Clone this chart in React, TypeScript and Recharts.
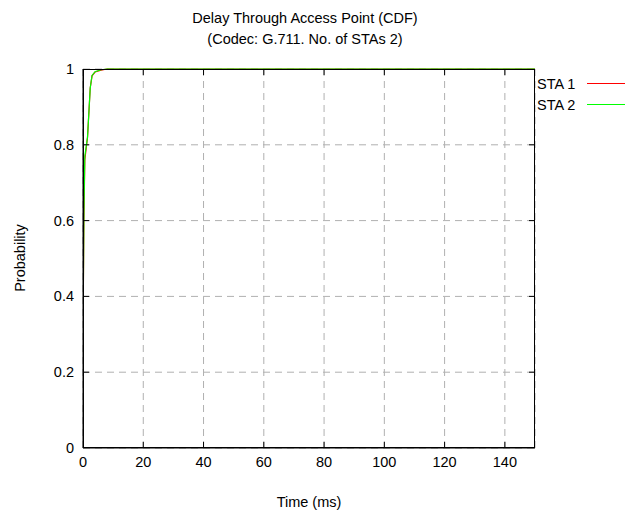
import React from 'react';
import { LineChart, Line, XAxis, YAxis, CartesianGrid } from 'recharts';

// delay in ms vs cumulative probability
const sta1Time = [0, 0.1, 0.3, 0.6, 1.5, 2.4, 3, 4, 6, 8, 150];
const sta1Prob = [0.2, 0.4, 0.6, 0.76, 0.82, 0.95, 0.982, 0.992, 0.997, 1, 1];
const sta2Time = [0, 0.1, 0.3, 0.6, 1.5, 2.4, 3, 4, 6, 8, 150];
const sta2Prob = [0.2, 0.4, 0.62, 0.77, 0.82, 0.95, 0.983, 0.993, 0.998, 1, 1];

const xTicks = [0, 20, 40, 60, 80, 100, 120, 140];
const yTicks = [0, 0.2, 0.4, 0.6, 0.8, 1];

const series = [
  { name: 'STA 1', color: '#ff0000', data: sta1Time.map((t, i) => ({ t, p: sta1Prob[i] })) },
  { name: 'STA 2', color: '#00ff00', data: sta2Time.map((t, i) => ({ t, p: sta2Prob[i] })) },
];

const FONT = '"Liberation Sans", Arial, sans-serif';
const FS = 14.5;
const PLOT_TOP = 69;
const PLOT_BOTTOM = 448;
const PLOT_LEFT = 83;
const PLOT_RIGHT = 535;

const XTick = ({ x, y, payload }: any) => (
  <g>
    {payload.value !== 0 && (
      <>
        <line x1={x} x2={x} y1={PLOT_BOTTOM} y2={PLOT_BOTTOM - 6} stroke="#000" />
        <line x1={x} x2={x} y1={PLOT_TOP} y2={PLOT_TOP + 6} stroke="#000" />
      </>
    )}
    <text x={x} y={y + 13} textAnchor="middle" fontSize={FS} fontFamily={FONT} fill="#000">
      {payload.value}
    </text>
  </g>
);

const YTick = ({ x, y, payload }: any) => (
  <g>
    {payload.value !== 0 && payload.value !== 1 && (
      <>
        <line x1={PLOT_LEFT} x2={PLOT_LEFT + 6} y1={y} y2={y} stroke="#000" />
        <line x1={PLOT_RIGHT} x2={PLOT_RIGHT - 6} y1={y} y2={y} stroke="#000" />
      </>
    )}
    <text x={x} y={y + 5} textAnchor="end" fontSize={FS} fontFamily={FONT} fill="#000">
      {payload.value}
    </text>
  </g>
);

export default function App() {
  return (
    <div style={{ position: 'absolute', left: 0, top: 0, width: 638, height: 511, background: '#fff', fontFamily: FONT }}>
      <div style={{ position: 'absolute', top: 8, left: 0, width: 610, textAlign: 'center', fontSize: FS, lineHeight: '21px' }}>
        Delay Through Access Point (CDF)
        <br />
        (Codec: G.711. No. of STAs 2)
      </div>
      <div
        style={{
          position: 'absolute',
          left: 20,
          top: 258,
          fontSize: FS,
          transform: 'translate(-50%, -50%) rotate(-90deg)',
          whiteSpace: 'nowrap',
        }}
      >
        Probability
      </div>
      <div style={{ position: 'absolute', top: 494, left: 83, width: 452, textAlign: 'center', fontSize: FS }}>
        Time (ms)
      </div>
      <LineChart
        width={638}
        height={511}
        margin={{ top: PLOT_TOP, right: 638 - PLOT_RIGHT, bottom: 511 - PLOT_BOTTOM - 30, left: PLOT_LEFT - 60 }}
        style={{ position: 'absolute', left: 0, top: 0 }}
      >
        <CartesianGrid stroke="#b0b0b0" strokeDasharray="7 5" />
        <XAxis
          type="number"
          dataKey="t"
          domain={[0, 150]}
          ticks={xTicks}
          height={30}
          tickSize={0}
          tickMargin={6}
          axisLine={{ stroke: '#000' }}
          tick={<XTick />}
          allowDataOverflow
        />
        <YAxis
          type="number"
          dataKey="p"
          domain={[0, 1]}
          ticks={yTicks}
          width={60}
          tickSize={0}
          tickMargin={9}
          axisLine={{ stroke: '#000' }}
          tick={<YTick />}
        />
        {series.map((s) => (
          <Line
            key={s.name}
            data={s.data}
            dataKey="p"
            name={s.name}
            type="linear"
            stroke={s.color}
            strokeWidth={1.2}
            dot={false}
            isAnimationActive={false}
          />
        ))}
      </LineChart>
      <div
        style={{
          position: 'absolute',
          left: PLOT_LEFT,
          top: PLOT_TOP,
          width: PLOT_RIGHT - PLOT_LEFT,
          height: PLOT_BOTTOM - PLOT_TOP,
          border: '1px solid #000',
          boxSizing: 'border-box',
          pointerEvents: 'none',
        }}
      />
      <div style={{ position: 'absolute', left: 537, top: 73, fontSize: FS }}>
        {series.map((s) => (
          <div key={s.name} style={{ display: 'flex', alignItems: 'center', height: 21 }}>
            <span style={{ width: 50 }}>{s.name}</span>
            <svg width={38} height={3}>
              <line x1={0} x2={38} y1={1.5} y2={1.5} stroke={s.color} strokeWidth={1} />
            </svg>
          </div>
        ))}
      </div>
    </div>
  );
}
